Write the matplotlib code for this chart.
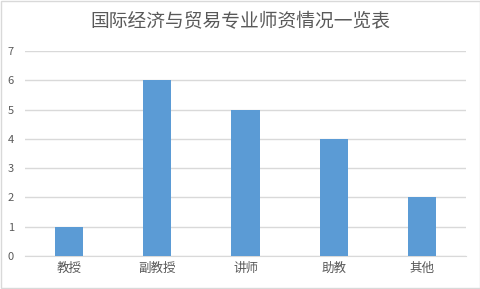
import matplotlib
matplotlib.use("Agg")
import matplotlib.pyplot as plt
from matplotlib.patches import Rectangle

plt.rcParams['font.family'] = ['Noto Sans CJK SC', 'DejaVu Sans']

title = "国际经济与贸易专业师资情况一览表"
categories = ["教授", "副教授", "讲师", "助教", "其他"]
counts = [1, 6, 5, 4, 2]

fig = plt.figure(figsize=(4.81, 2.89), dpi=100)
ax = fig.add_axes([0.052, 0.1142, 0.917, 0.7093])

ax.bar(range(len(categories)), counts, width=0.32, color="#5b9bd5", zorder=3)
ax.set_xlim(-0.5, len(categories) - 0.5)
ax.set_ylim(0, 7)
ax.set_yticks(range(0, 8))
ax.set_xticks(range(len(categories)))
ax.set_xticklabels(categories, fontsize=9, color="#595959")
ax.tick_params(axis="y", labelsize=8, labelcolor="#595959", length=0, pad=8)
ax.tick_params(axis="x", length=0, pad=4)
ax.grid(axis="y", color="#d9d9d9", linewidth=1, zorder=0)
for side in ("top", "right", "left"):
    ax.spines[side].set_visible(False)
ax.spines["bottom"].set_color("#d9d9d9")

fig.text(0.5, 0.926, title, ha="center", va="center", fontsize=13.5, color="#595959")

# light frame around the whole chart
fig.patches.append(Rectangle((0.002, 0.003), 0.996, 0.994, transform=fig.transFigure,
                             fill=False, edgecolor="#d9d9d9", linewidth=1))

fig.savefig("out.png", dpi=100)
